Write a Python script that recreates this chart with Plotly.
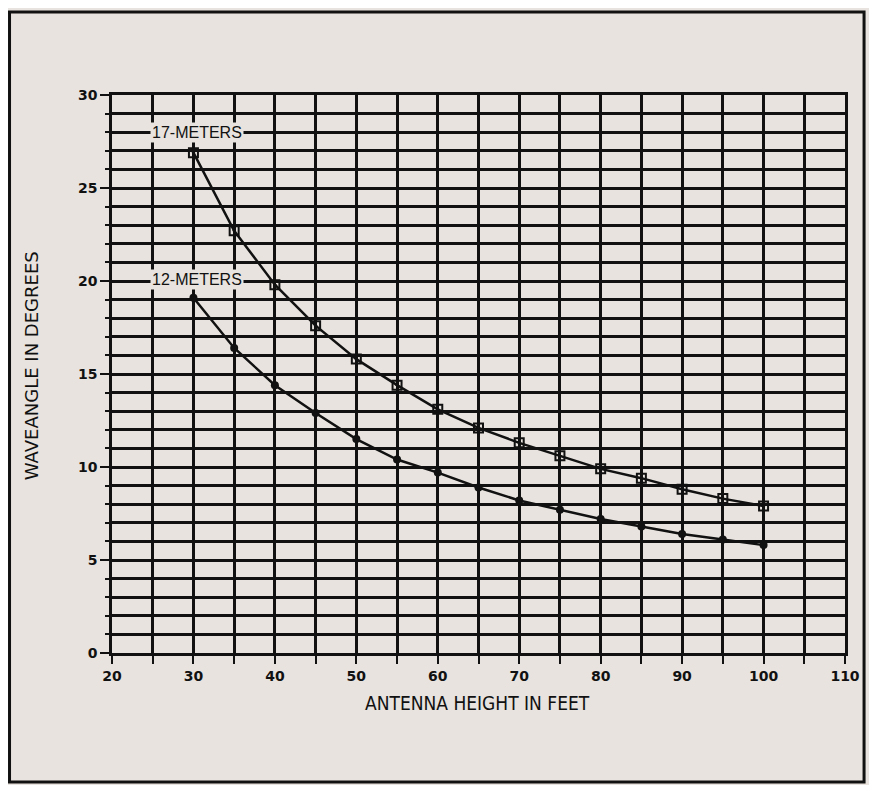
import plotly.graph_objects as go

heights = [30, 35, 40, 45, 50, 55, 60, 65, 70, 75, 80, 85, 90, 95, 100]
angle_17m = [26.9, 22.7, 19.8, 17.6, 15.8, 14.4, 13.1, 12.1, 11.3, 10.6, 9.9, 9.4, 8.8, 8.3, 7.9]
angle_12m = [19.1, 16.4, 14.4, 12.9, 11.5, 10.4, 9.7, 8.9, 8.2, 7.7, 7.2, 6.8, 6.4, 6.1, 5.8]

bg = "#e8e3de"
ink = "#111111"

fig = go.Figure()
fig.add_trace(go.Scatter(
    x=heights, y=angle_17m, mode="lines+markers", name="17-METERS",
    line=dict(color=ink, width=2.5),
    marker=dict(symbol="square-open-dot", size=9, color=ink, line=dict(width=2)),
))
fig.add_trace(go.Scatter(
    x=heights, y=angle_12m, mode="lines+markers", name="12-METERS",
    line=dict(color=ink, width=2.5),
    marker=dict(symbol="circle", size=8, color=ink),
))

# curve labels sitting on the grid
for txt, yy in [("17-METERS", 28.0), ("12-METERS", 20.1)]:
    fig.add_annotation(x=30.4, y=yy, text=txt, showarrow=False, bgcolor=bg,
                       font=dict(family="Liberation Sans, Arial", size=16, color=ink),
                       borderpad=1)

axis_font = dict(family="DejaVu Sans", size=14, color=ink, weight="bold")

fig.update_xaxes(
    range=[20, 110], tick0=20, dtick=10, tickfont=axis_font,
    ticks="outside", ticklen=8, tickwidth=2, tickcolor=ink,
    showgrid=True, gridcolor=ink, gridwidth=2.5,
    minor=dict(dtick=5, showgrid=True, gridcolor=ink, gridwidth=2.5,
               ticks="outside", ticklen=8, tickwidth=2, tickcolor=ink),
    showline=True, linecolor=ink, linewidth=2.5, mirror=True, zeroline=False,
)
fig.update_yaxes(
    range=[0, 30], tick0=0, dtick=5, tickfont=axis_font,
    ticks="outside", ticklen=9, tickwidth=2, tickcolor=ink,
    showgrid=True, gridcolor=ink, gridwidth=2.5,
    minor=dict(dtick=1, showgrid=True, gridcolor=ink, gridwidth=2.5,
               ticks="outside", ticklen=4, tickwidth=2, tickcolor=ink),
    showline=True, linecolor=ink, linewidth=2.5, mirror=True, zeroline=False,
)

fig.add_annotation(xref="paper", yref="paper", x=0.499, y=-0.0896, text="ANTENNA HEIGHT IN FEET",
                   showarrow=False, yanchor="middle",
                   font=dict(family="Liberation Sans Narrow, DejaVu Sans Condensed", size=19, color=ink))
fig.add_annotation(xref="paper", yref="paper", x=-0.1105, y=0.514, text="WAVEANGLE IN DEGREES",
                   showarrow=False, textangle=-90, xanchor="center", yanchor="middle",
                   font=dict(family="DejaVu Sans", size=18, color=ink))

# outer frame
fig.add_shape(type="rect", xref="paper", yref="paper", x0=-0.1398, x1=1.026, y0=-0.2312, y1=1.1487,
              line=dict(color=ink, width=3))

# page has an 8px body margin, so the figure is 8px smaller than the window
fig.update_layout(
    width=869, height=777,
    margin=dict(l=104, r=32, t=87, b=132),
    paper_bgcolor=bg, plot_bgcolor=bg,
    showlegend=False,
)

fig.write_html("out.html")
